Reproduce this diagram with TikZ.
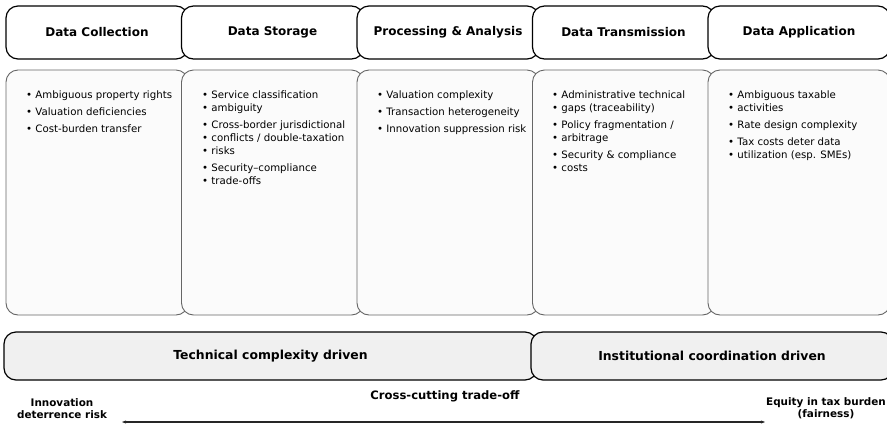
\documentclass[tikz,border=0pt]{standalone}
\usepackage{fontspec}
\setmainfont{DejaVu Sans}
\usetikzlibrary{arrows.meta}
\newcommand{\bl}{\textbullet\ }
\begin{document}
\begin{tikzpicture}[x=1pt,y=-1pt,
  hdr/.style={draw=black,line width=1.2pt,fill=white,rounded corners=12pt,minimum width=182pt,minimum height=53pt,font=\bfseries\fontsize{12}{13}\selectfont},
  cbox/.style={draw=black!60,line width=0.9pt,fill=black!1.5,rounded corners=12pt,minimum width=182pt,minimum height=245pt},
  txt/.style={anchor=north west,align=left,inner sep=0pt,font=\fontsize{10.2}{13}\selectfont},
  band/.style={draw=black,line width=1.2pt,fill=black!6,rounded corners=12pt,minimum height=48pt,font=\bfseries\fontsize{12.4}{14}\selectfont},
  lab/.style={align=center,inner sep=0pt,font=\bfseries\fontsize{10.4}{12.5}\selectfont}]
\useasboundingbox (0,0) rectangle (887,424);
\fill[white] (0,0) rectangle (887,424);
% headers
\node[hdr] (h1) at (97,32.5) {Data Collection};
\node[hdr] (h2) at (272.5,32.5) {Data Storage};
\node[hdr] (h3) at (448,32.5) {Processing \& Analysis};
\node[hdr] (h4) at (623.5,32.5) {Data Transmission};
\node[hdr] (h5) at (799,32.5) {Data Application};
% content boxes
\node[cbox] (c1) at (97,192.5) {};
\node[cbox] (c2) at (272.5,192.5) {};
\node[cbox] (c3) at (448,192.5) {};
\node[cbox] (c4) at (623.5,192.5) {};
\node[cbox] (c5) at (799,192.5) {};
\node[txt] (t1) at (26,90.5) {\bl Ambiguous property rights\\[4pt]\bl Valuation deficiencies\\[4pt]\bl Cost-burden transfer};
\node[txt] (t2) at (202,90.5) {\bl Service classification\\\bl ambiguity\\[4pt]\bl Cross-border jurisdictional\\\bl conflicts / double-taxation\\\bl risks\\[4pt]\bl Security–compliance\\\bl trade-offs};
\node[txt] (t3) at (377,90.5) {\bl Valuation complexity\\[4pt]\bl Transaction heterogeneity\\[4pt]\bl Innovation suppression risk};
\node[txt] (t4) at (552,90.5) {\bl Administrative technical\\\bl gaps (traceability)\\[4pt]\bl Policy fragmentation /\\\bl arbitrage\\[4pt]\bl Security \& compliance\\\bl costs};
\node[txt] (t5) at (728,90.5) {\bl Ambiguous taxable\\\bl activities\\[4pt]\bl Rate design complexity\\[4pt]\bl Tax costs deter data\\\bl utilization (esp. SMEs)};
% bands
\node[band,minimum width=533pt] (b1) at (270.5,356) {Technical complexity driven};
\node[band,minimum width=362pt] (b2) at (712,356) {Institutional coordination driven};
% bottom labels
\node[lab,font=\bfseries\fontsize{11.6}{13}\selectfont] (x) at (445,396) {Cross-cutting trade-off};
\node[lab] (l) at (62,408.5) {Innovation\\deterrence risk};
\node[lab] (r) at (826,408) {Equity in tax burden\\(fairness)};
\coordinate (al) at (122,422);
\coordinate (ar) at (765,422);
\draw[line width=1.1pt,black!85,{Stealth[length=4pt,width=3pt]}-{Stealth[length=4pt,width=3pt]}] (al) -- (ar);
\end{tikzpicture}
\end{document}
